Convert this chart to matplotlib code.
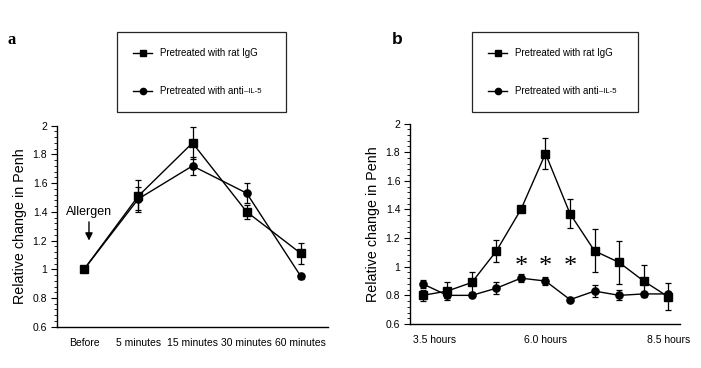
import matplotlib
matplotlib.use("Agg")
import matplotlib.pyplot as plt
from matplotlib.lines import Line2D
from matplotlib.ticker import MultipleLocator
import matplotlib.transforms as mtransforms

plt.rcParams['font.family'] = ['Liberation Sans', 'DejaVu Sans']

# ---------------- data ----------------
cats_a = ["Before", "5 minutes", "15 minutes", "30 minutes", "60 minutes"]
igg_a = [1.00, 1.51, 1.88, 1.40, 1.11]
igg_a_err = [0.0, 0.11, 0.11, 0.05, 0.07]
il5_a = [1.00, 1.49, 1.72, 1.53, 0.95]
il5_a_err = [0.0, 0.08, 0.06, 0.07, 0.02]

hours_b = [3.5, 4.0, 4.5, 5.0, 5.5, 6.0, 6.5, 7.0, 7.5, 8.0, 8.5]
igg_b = [0.80, 0.83, 0.89, 1.11, 1.40, 1.79, 1.37, 1.11, 1.03, 0.90, 0.79]
igg_b_err = [0.04, 0.065, 0.07, 0.08, 0.02, 0.11, 0.10, 0.15, 0.15, 0.11, 0.095]
il5_b = [0.88, 0.80, 0.80, 0.85, 0.92, 0.90, 0.77, 0.83, 0.80, 0.81, 0.81]
il5_b_err = [0.03, 0.02, 0.01, 0.04, 0.03, 0.03, 0.01, 0.04, 0.035, 0.01, 0.01]
sig_hours = [5.5, 6.0, 6.5]
sig_y = 1.00
xticks_b = [3.5, 6.0, 8.5]
xticklabels_b = ["3.5 hours", "6.0 hours", "8.5 hours"]

label_igg = "Pretreated with rat IgG"
label_il5_main = "Pretreated with anti"
label_il5_small = "\u2013IL-5"

W, H = 701, 368
fig = plt.figure(figsize=(W / 100, H / 100), dpi=100)

def fx(px):
    return px / W

def fy(py):
    return 1 - py / H

ax_a = fig.add_axes([fx(57), fy(326.7), fx(328) - fx(57), fy(125.7) - fy(326.7)])
ax_b = fig.add_axes([fx(410), fy(324), fx(680) - fx(410), fy(123.5) - fy(324)])

tick_fs = 7.5
msz = 5.2

def style_axis(ax):
    for s in ['top', 'right']:
        ax.spines[s].set_visible(False)
    for s in ['left', 'bottom']:
        ax.spines[s].set_linewidth(1.0)
        ax.spines[s].set_color('black')
    ax.set_ylim(0.6, 2.0)
    ax.yaxis.set_major_locator(MultipleLocator(0.2))
    ax.yaxis.set_minor_locator(MultipleLocator(0.04))
    ax.set_yticks([0.6, 0.8, 1.0, 1.2, 1.4, 1.6, 1.8, 2.0])
    ax.set_yticklabels(["0.6", "0.8", "1", "1.2", "1.4", "1.6", "1.8", "2"])
    ax.tick_params(axis='y', which='major', length=4, width=0.8, pad=3, labelsize=tick_fs)
    ax.tick_params(axis='y', which='minor', length=2, width=0.6)
    ax.tick_params(axis='x', which='both', length=0, pad=8, labelsize=tick_fs)
    ax.set_ylabel("Relative change in Penh", fontsize=10.3, labelpad=4)

def plot_series(ax, x, y, e, marker):
    ax.errorbar(x, y, yerr=e, color='black', lw=1.0, marker=marker, ms=msz,
                elinewidth=0.9, capsize=2, capthick=0.9, zorder=3)

# ---------------- panel a ----------------
xa = list(range(len(cats_a)))
plot_series(ax_a, xa, il5_a, il5_a_err, 'o')
plot_series(ax_a, xa, igg_a, igg_a_err, 's')
style_axis(ax_a)
ax_a.set_xlim(-0.5, len(cats_a) - 0.5)
ax_a.set_xticks(xa)
ax_a.set_xticklabels(cats_a)
ax_a.annotate("", xy=(0.09, 1.20), xytext=(0.09, 1.33),
              arrowprops=dict(arrowstyle='-|>', color='black', lw=1.0,
                              mutation_scale=11, shrinkA=0, shrinkB=0))
ax_a.text(0.09, 1.40, "Allergen", ha='center', va='center', fontsize=9)

# ---------------- panel b ----------------
plot_series(ax_b, hours_b, il5_b, il5_b_err, 'o')
plot_series(ax_b, hours_b, igg_b, igg_b_err, 's')
style_axis(ax_b)
ax_b.set_xlim(3.24, 8.74)
ax_b.set_xticks(xticks_b)
ax_b.set_xticklabels(xticklabels_b)
for h in sig_hours:
    ax_b.text(h, sig_y, "*", ha='center', va='center', fontsize=19,
              family=['Liberation Serif', 'DejaVu Serif'])

# shift first tick label slightly right as in reference
lab0 = ax_b.get_xticklabels()[0]
lab0.set_transform(lab0.get_transform() +
                   mtransforms.ScaledTranslation(12 / 100, 0, fig.dpi_scale_trans))

# ---------------- panel letters ----------------
fig.text(fx(12), fy(40), "a", fontsize=12, fontweight='bold', ha='center', va='center',
         family=['Liberation Serif', 'DejaVu Serif'])
fig.text(fx(397), fy(40), "b", fontsize=12.5, fontweight='bold', ha='center', va='center')

# ---------------- legends ----------------
leg_fs = 7
def make_legend(ax, x0, x1, ytop, ybot):
    handles = [Line2D([], [], color='black', lw=1.0, marker='s', ms=4.5),
               Line2D([], [], color='black', lw=1.0, marker='o', ms=4.5)]
    bbox = (fx(x0), fy(ybot), fx(x1) - fx(x0), fy(ytop) - fy(ybot))
    leg = ax.legend(handles, [label_igg, label_il5_main + label_il5_small],
                    loc='upper left', bbox_to_anchor=bbox, bbox_transform=fig.transFigure,
                    mode='expand', borderaxespad=0, fontsize=leg_fs,
                    frameon=True, fancybox=False, framealpha=1, edgecolor='0.15',
                    borderpad=1.65, labelspacing=2.9, handlelength=2.0,
                    handletextpad=0.8)
    leg.get_frame().set_linewidth(0.9)
    return leg

leg_a = make_legend(ax_a, 117, 286, 32, 109)
leg_b = make_legend(ax_b, 472, 638, 32, 108)

# render the "IL-5" part smaller, as in reference
fig.canvas.draw()
renderer = fig.canvas.get_renderer()
for leg in (leg_a, leg_b):
    t = leg.get_texts()[1]
    t.set_text(label_il5_main)
    fig.canvas.draw()
    bb = t.get_window_extent(renderer)
    fig.text(bb.x1 / W, (bb.y0 + bb.y1) / 2 / H - 0.002, label_il5_small,
             fontsize=5.6, ha='left', va='center')

fig.savefig("out.png", dpi=100)
